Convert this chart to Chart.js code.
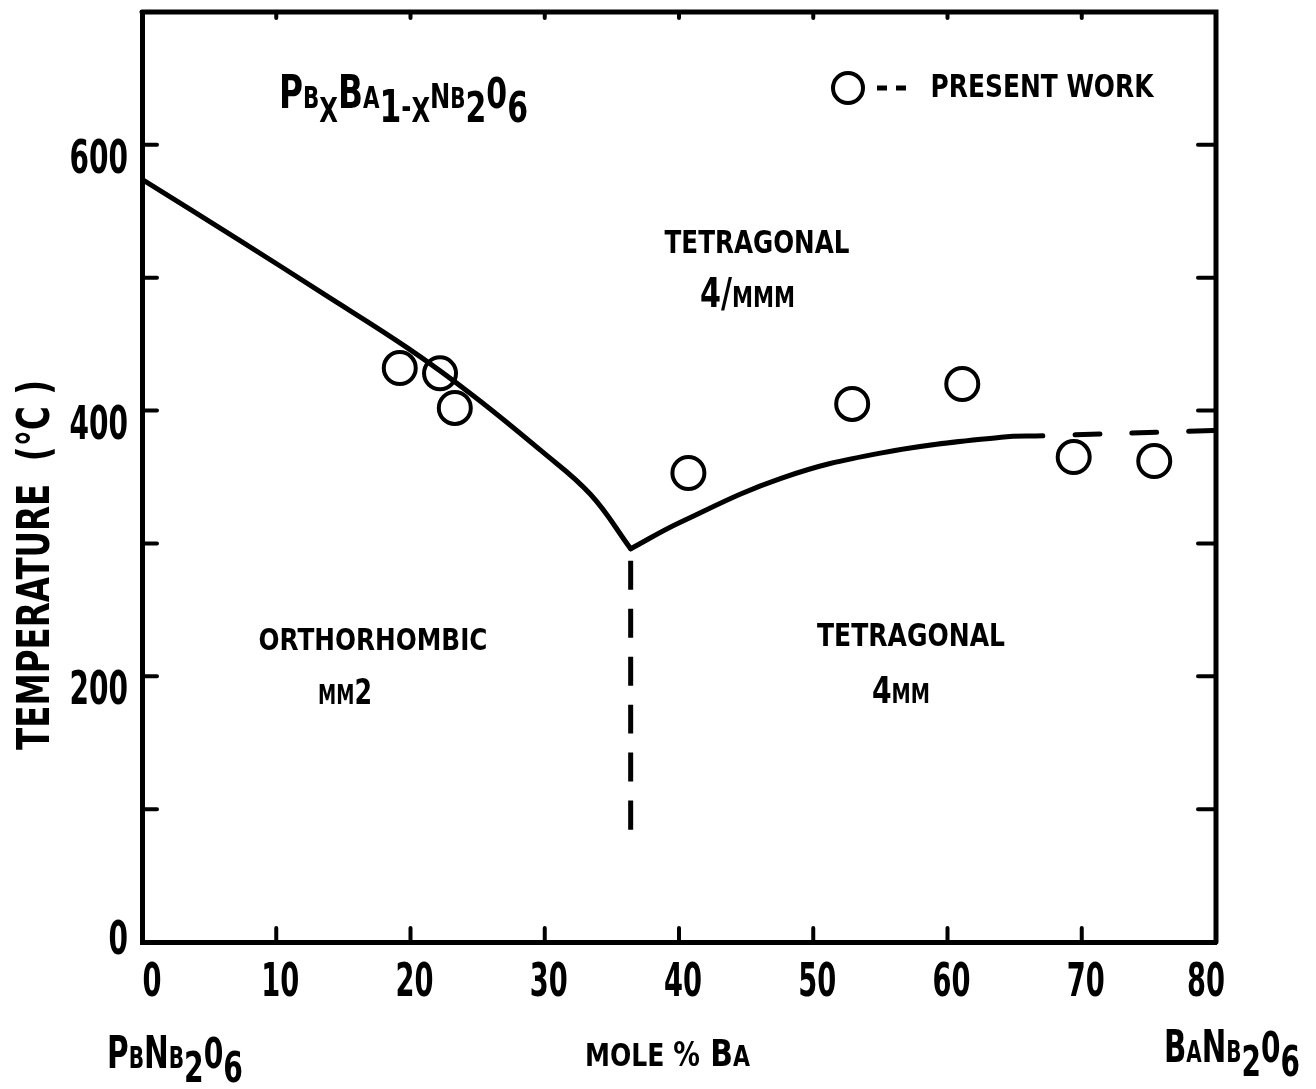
<!DOCTYPE html>
<html>
<head>
<meta charset="utf-8">
<script src="https://cdn.jsdelivr.net/npm/chart.js@4.4.1/dist/chart.umd.min.js"></script>
<style>
  html, body { margin: 0; padding: 0; background: #fff; }
  canvas { display: block; }
</style>
</head>
<body>
<canvas id="phaseChart" width="1316" height="1089"></canvas>
<script>
/* ============================================================
   ============================================================ */
const xTickLabels = ["0", "10", "20", "30", "40", "50", "60", "70", "80"];
const yTickLabels = ["0", "200", "400", "600"];

// orthorhombic -> tetragonal boundary (PbNb2O6 side)
const leftBranchX = [0, 7.3, 13.5, 19.8, 24.7, 29.7, 33.4, 36.4];
const leftBranchT = [574, 528, 488, 447, 411, 370, 337, 296];

// 4mm -> 4/mmm boundary (BaNb2O6 side)
const rightBranchX = [36.4, 40.1, 47.6, 55.0, 64.0, 67.1];
const rightBranchT = [296, 316, 349, 368, 380, 381];

// dashed continuation of the right branch
const extensionX = [67.1, 80];
const extensionT = [381, 385];

// morphotropic boundary (dashed, vertical)
const boundaryX = [36.4, 36.4];
const boundaryT = [287, 84];

// present work (open circles)
const presentX = [19.2, 22.2, 23.3, 40.7, 52.9, 61.1, 69.4, 75.4];
const presentT = [432, 428, 402, 353, 405, 420, 365, 362];

const toPoints = (xs, ys) => xs.map((x, i) => ({ x: x, y: ys[i] }));

/* ============================================================
   TEXT HELPERS (hand-lettered look: bold, squeezed)
   ============================================================ */
const FONT = '"DejaVu Sans"';

function squeezed(ctx, text, cx, cy, size, width) {
    ctx.save();
    ctx.font = `bold ${size}px ${FONT}`;
    const w = ctx.measureText(text).width;
    ctx.translate(cx, cy);
    ctx.scale(width / w, 1);
    ctx.textAlign = "center";
    ctx.textBaseline = "middle";
    ctx.fillText(text, 0, 0);
    ctx.restore();
}

// parts: [text, fontSize, dy]; drawn left to right, squeezed to fit width
function rich(ctx, parts, left, baseline, width) {
    ctx.save();
    let total = 0;
    parts.forEach(p => {
        ctx.font = `bold ${p[1]}px ${FONT}`;
        total += ctx.measureText(p[0]).width;
    });
    const sx = width / total;
    ctx.translate(left, baseline);
    ctx.scale(sx, 1);
    ctx.textAlign = "left";
    ctx.textBaseline = "alphabetic";
    let x = 0;
    parts.forEach(p => {
        ctx.font = `bold ${p[1]}px ${FONT}`;
        ctx.fillText(p[0], x, p[2]);
        x += ctx.measureText(p[0]).width;
    });
    ctx.restore();
}

/* ============================================================
   FRAME, INWARD TICKS, LABELS, ANNOTATIONS
   ============================================================ */
const decorations = {
    id: "decorations",
    afterDraw(chart) {
        const ctx = chart.ctx;
        const xs = chart.scales.x;
        const ys = chart.scales.y;
        const a = chart.chartArea;

        ctx.save();
        ctx.strokeStyle = "#000";
        ctx.fillStyle = "#000";
        ctx.lineCap = "round";

        // top and right border
        ctx.lineWidth = 5;
        ctx.beginPath();
        ctx.moveTo(a.left, a.top);
        ctx.lineTo(a.right, a.top);
        ctx.lineTo(a.right, a.bottom);
        ctx.stroke();

        // inward ticks
        ctx.lineWidth = 4;
        for (let v = 10; v < 80; v += 10) {
            const px = xs.getPixelForValue(v);
            ctx.beginPath();
            ctx.moveTo(px, a.bottom);
            ctx.lineTo(px, a.bottom - 14);
            ctx.moveTo(px, a.top);
            ctx.lineTo(px, a.top + 6);
            ctx.stroke();
        }
        for (let v = 100; v < 700; v += 100) {
            const py = ys.getPixelForValue(v);
            ctx.beginPath();
            ctx.moveTo(a.left, py);
            ctx.lineTo(a.left + 15, py);
            ctx.moveTo(a.right, py);
            ctx.lineTo(a.right - 18, py);
            ctx.stroke();
        }

        // x tick labels
        xTickLabels.forEach((lab, i) => {
            let px = xs.getPixelForValue(Number(lab)) + 4;
            if (i === 0) px += 6;
            if (i === xTickLabels.length - 1) px -= 14;
            squeezed(ctx, lab, px, a.bottom + 42, 46, 19 * lab.length);
        });

        // y tick labels
        yTickLabels.forEach(lab => {
            const py = ys.getPixelForValue(Number(lab)) + (lab === "0" ? 0 : 16);
            const w = 19.5 * lab.length;
            squeezed(ctx, lab, a.left - 14 - w / 2, py, 46, w);
        });

        // axis titles
        ctx.save();
        ctx.translate(38, 565);
        ctx.rotate(-Math.PI / 2);
        squeezed(ctx, "TEMPERATURE  (°C )", 0, 0, 44, 370);
        ctx.restore();

        rich(ctx, [["P", 44, 0], ["B", 30, 0], ["N", 44, 0], ["B", 30, 0], ["2", 42, 14], ["0", 42, 0], ["6", 42, 14]],
            107, 1068, 136);
        rich(ctx, [["MOLE ", 32, 0], ["%", 34, 0], [" B", 38, 0], ["A", 28, 0]], 585, 1066, 165);
        rich(ctx, [["B", 44, 0], ["A", 30, 0], ["N", 44, 0], ["B", 30, 0], ["2", 42, 14], ["0", 42, 0], ["6", 42, 14]],
            1164, 1062, 136);

        // compound formula, top left
        rich(ctx, [["P", 46, 0], ["B", 30, 0], ["X", 34, 14], ["B", 46, 0], ["A", 30, 0],
                   ["1", 44, 14], ["-", 34, 10], ["X", 34, 14], ["N", 34, 0], ["B", 28, 0],
                   ["2", 42, 14], ["0", 42, 0], ["6", 42, 14]],
            279, 108, 249);

        // legend
        ctx.lineWidth = 4;
        ctx.beginPath();
        ctx.arc(848, 88, 15, 0, Math.PI * 2);
        ctx.stroke();
        ctx.lineWidth = 5;
        ctx.lineCap = "butt";
        ctx.beginPath();
        ctx.moveTo(877, 88); ctx.lineTo(887, 88);
        ctx.moveTo(896, 88); ctx.lineTo(906, 88);
        ctx.stroke();
        ctx.lineCap = "round";
        squeezed(ctx, "PRESENT WORK", 1042, 89, 32, 223);

        // phase regions
        squeezed(ctx, "TETRAGONAL", 757, 245, 32, 185);
        rich(ctx, [["4/", 40, 0], ["MMM", 28, 0]], 700, 307, 95);
        squeezed(ctx, "ORTHORHOMBIC", 373, 642, 30, 229);
        rich(ctx, [["MM", 26, 0], ["2", 36, 0]], 318, 704, 54);
        squeezed(ctx, "TETRAGONAL", 911, 638, 32, 188);
        rich(ctx, [["4", 38, 0], ["MM", 26, 0]], 872, 703, 58);

        ctx.restore();
    }
};

/* ============================================================
   CHART
   ============================================================ */
const lineStyle = {
    showLine: true,
    borderColor: "#000",
    borderWidth: 5,
    pointRadius: 0,
    fill: false,
    tension: 0.4,
    borderCapStyle: "round"
};

new Chart(document.getElementById("phaseChart"), {
    type: "scatter",
    data: {
        datasets: [
            Object.assign({ data: toPoints(leftBranchX, leftBranchT) }, lineStyle),
            Object.assign({ data: toPoints(rightBranchX, rightBranchT) }, lineStyle),
            Object.assign({ data: toPoints(extensionX, extensionT), borderDash: [25, 32], borderDashOffset: 25 }, lineStyle),
            Object.assign({ data: toPoints(boundaryX, boundaryT), borderDash: [29, 19] }, lineStyle, { borderCapStyle: "butt" }),
            {
                data: toPoints(presentX, presentT),
                pointStyle: "circle",
                pointRadius: 16,
                pointBorderWidth: 4,
                pointBorderColor: "#000",
                pointBackgroundColor: "rgba(0,0,0,0)",
                showLine: false
            }
        ]
    },
    options: {
        responsive: false,
        animation: false,
        devicePixelRatio: 1,
        layout: { autoPadding: false, padding: { top: 12, right: 100, left: 0, bottom: 0 } },
        plugins: { legend: { display: false }, tooltip: { enabled: false } },
        scales: {
            x: {
                type: "linear",
                min: 0,
                max: 80,
                ticks: { display: false, stepSize: 10 },
                grid: { display: false },
                border: { display: true, color: "#000", width: 5 },
                afterFit: s => { s.height = 147; }
            },
            y: {
                type: "linear",
                min: 0,
                max: 700,
                ticks: { display: false, stepSize: 100 },
                grid: { display: false },
                border: { display: true, color: "#000", width: 5 },
                afterFit: s => { s.width = 142; }
            }
        }
    },
    plugins: [decorations]
});
</script>
</body>
</html>
